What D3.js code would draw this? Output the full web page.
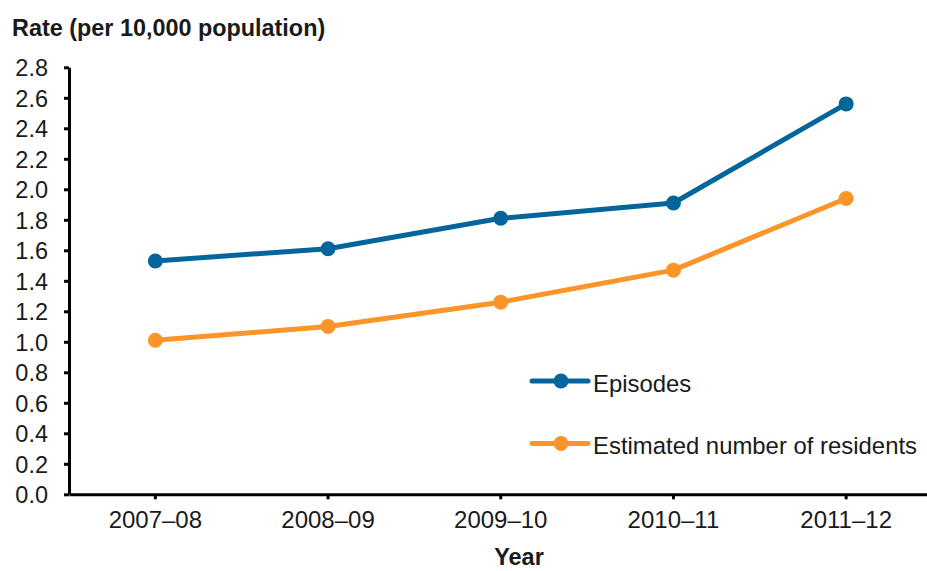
<!DOCTYPE html>
<html>
<head>
<meta charset="utf-8">
<script src="https://cdn.jsdelivr.net/npm/d3@7"></script>
<style>
  html, body { margin: 0; padding: 0; background: #fff; }
  svg { display: block; font-family: "Liberation Sans", Arial, sans-serif; }
</style>
</head>
<body>
<svg id="chart" width="927" height="571"></svg>
<script>
const categories = ["2007–08", "2008–09", "2009–10", "2010–11", "2011–12"];
const episodes = [1.53, 1.61, 1.81, 1.91, 2.56];
const residents = [1.01, 1.10, 1.26, 1.47, 1.94];
const yTicks = [0, 0.2, 0.4, 0.6, 0.8, 1.0, 1.2, 1.4, 1.6, 1.8, 2.0, 2.2, 2.4, 2.6, 2.8];
const seriesNames = ["Episodes", "Estimated number of residents"];
const seriesColors = ["#04659c", "#fb9429"];

const svg = d3.select("#chart");
const plotLeft = 69, plotRight = 932.5, plotTop = 67.3, plotBottom = 494.3;

const x = d3.scaleBand().domain(categories).range([plotLeft, plotRight]).padding(0);
const y = d3.scaleLinear().domain([0, 2.8]).range([plotBottom, plotTop]);

// Y axis
const yAxis = svg.append("g").attr("transform", `translate(${plotLeft},0)`)
  .call(d3.axisLeft(y).tickValues(yTicks).tickFormat(d3.format(".1f")).tickSize(5).tickSizeOuter(0).tickPadding(16));
yAxis.select(".domain").attr("stroke", "#000").attr("stroke-width", 3);
yAxis.selectAll(".tick line").attr("stroke", "#000").attr("stroke-width", 3);
yAxis.selectAll(".tick text").attr("font-size", 23.5).attr("fill", "#1a1a1a").attr("dy", "0.35em");

// X axis
const xAxis = svg.append("g").attr("transform", `translate(0,${plotBottom})`)
  .call(d3.axisBottom(x).tickSize(5).tickSizeOuter(0).tickPadding(12));
xAxis.select(".domain").attr("stroke", "#000").attr("stroke-width", 3);
xAxis.selectAll(".tick line").attr("stroke", "#000").attr("stroke-width", 3);
xAxis.selectAll(".tick text").attr("font-size", 24).attr("fill", "#1a1a1a").attr("dy", "0.71em");

// Titles
svg.append("text").attr("x", 12).attr("y", 36)
  .attr("font-size", 23.4).attr("font-weight", "bold").attr("fill", "#1a1a1a")
  .text("Rate (per 10,000 population)");
svg.append("text").attr("x", 519).attr("y", 565)
  .attr("text-anchor", "middle").attr("font-size", 23.5).attr("font-weight", "bold").attr("fill", "#1a1a1a")
  .text("Year");

// Lines
const line = d3.line().x((d, i) => x(categories[i]) + x.bandwidth() / 2).y(d => y(d));
[episodes, residents].forEach((vals, s) => {
  svg.append("path").datum(vals).attr("d", line)
    .attr("fill", "none").attr("stroke", seriesColors[s]).attr("stroke-width", 5)
    .attr("stroke-linejoin", "round");
  svg.selectAll(null).data(vals).enter().append("circle")
    .attr("cx", (d, i) => x(categories[i]) + x.bandwidth() / 2)
    .attr("cy", d => y(d))
    .attr("r", 7.5)
    .attr("fill", seriesColors[s]);
});

// Legend
const legendY = [381, 443.5];
seriesNames.forEach((name, s) => {
  const g = svg.append("g");
  g.append("line").attr("x1", 532).attr("x2", 588).attr("y1", legendY[s]).attr("y2", legendY[s])
    .attr("stroke", seriesColors[s]).attr("stroke-width", 5).attr("stroke-linecap", "round");
  g.append("circle").attr("cx", 561).attr("cy", legendY[s]).attr("r", 7.5).attr("fill", seriesColors[s]);
  g.append("text").attr("x", 593).attr("y", legendY[s] + 10.5)
    .attr("font-size", 23.9).attr("fill", "#1a1a1a").text(name);
});
</script>
</body>
</html>
